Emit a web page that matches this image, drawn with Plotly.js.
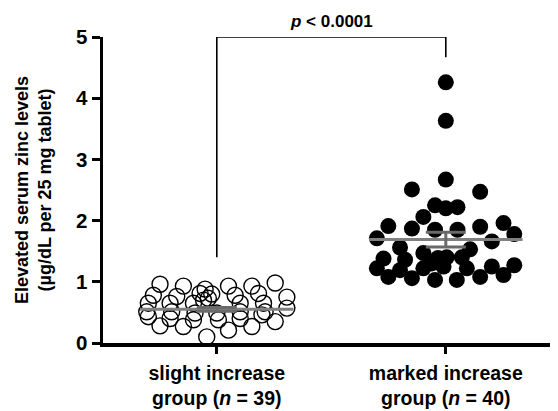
<!DOCTYPE html>
<html>
<head>
<meta charset="utf-8">
<script src="https://cdn.plot.ly/plotly-3.0.1.min.js"></script>
<style>html,body{margin:0;padding:0;background:#fff;}#chart{width:558px;height:411px;}</style>
</head>
<body>
<div id="chart"></div>
<script>
// ---- data ----
var categories = ["slight increase<br>group (<i>n</i> = 39)", "marked increase<br>group (<i>n</i> = 40)"];
var slightValues = [0.96,0.93,0.88,0.93,0.93,0.98,0.78,0.76,0.81,0.80,0.78,0.81,0.75,0.65,0.65,0.65,0.73,0.65,0.65,0.51,0.51,0.49,0.49,0.51,0.51,0.57,0.43,0.40,0.38,0.38,0.40,0.46,0.28,0.27,0.21,0.27,0.35,0.10,0.70];
var slightJitter = [-0.248,-0.146,-0.051,0.051,0.153,0.255,-0.277,-0.175,-0.073,-0.022,0.080,0.182,0.306,-0.299,-0.204,-0.102,-0.037,0.102,0.204,-0.306,-0.197,-0.095,0.0,0.102,0.211,0.306,-0.299,-0.204,-0.102,0.007,0.102,0.197,-0.248,-0.146,0.051,0.153,0.255,-0.044,-0.058];
var markedValues = [4.26,3.63,2.67,2.51,2.47,2.25,2.20,2.22,2.06,1.91,1.87,1.85,1.85,1.90,1.96,1.71,1.78,1.66,1.56,1.53,1.47,1.40,1.40,1.38,1.36,1.39,1.22,1.25,1.27,1.19,1.22,1.25,1.22,1.08,1.06,1.03,1.03,1.08,1.11,1.30];
var markedJitter = [0,0,0,-0.148,0.150,-0.047,0,0.051,-0.098,-0.251,-0.148,-0.047,0.051,0.150,0.252,-0.301,0.299,0.201,-0.200,0.106,-0.098,0.004,0.070,-0.272,-0.178,-0.034,-0.301,0.201,0.299,-0.200,-0.098,-0.010,0.092,-0.251,-0.148,-0.047,0.048,0.150,0.252,-0.061];
var groupMeans = [0.55, 1.69];
var groupSEM = [0.03, 0.12];
var bracketY = [1.40, 5.0, 5.0, 4.67];
var pLabel = "<i>p</i> < 0.0001";
var yTickVals = [0,1,2,3,4,5];
var yTitle = "Elevated serum zinc levels<br>(µg/dL per 25 mg tablet)";

// ---- build ----
var pos = [1, 2];
var halfLine = 0.335;
function along(c, offs){ return offs.map(function(o){ return c + o; }); }

var traces = [];
// bracket
traces.push({
  x: [pos[0], pos[0], pos[1], pos[1]], y: bracketY,
  mode: 'lines', line: {color: '#000', width: 1.6}, cliponaxis: false,
  hoverinfo: 'skip', showlegend: false
});
// points
traces.push({
  x: along(pos[0], slightJitter), y: slightValues, mode: 'markers',
  marker: {symbol: 'circle-open', size: 16, color: '#000', line: {width: 1.4, color: '#000'}},
  cliponaxis: false, showlegend: false
});
traces.push({
  x: along(pos[1], markedJitter), y: markedValues, mode: 'markers',
  marker: {symbol: 'circle', size: 16, color: '#000', line: {width: 0}},
  cliponaxis: false, showlegend: false
});
// mean lines
for (var i = 0; i < 2; i++) {
  traces.push({
    x: [pos[i] - halfLine, pos[i] + halfLine], y: [groupMeans[i], groupMeans[i]],
    mode: 'lines', line: {color: '#808080', width: 3}, showlegend: false, hoverinfo: 'skip'
  });
}
// SEM error bars
traces.push({
  x: pos, y: groupMeans, mode: 'markers',
  marker: {size: 1, opacity: 0},
  error_y: {type: 'data', array: groupSEM, visible: true, width: 20, thickness: 3, color: '#6a6a6a'},
  showlegend: false, hoverinfo: 'skip'
});

var font = "Liberation Sans, Arial, sans-serif";
var layout = {
  width: 558, height: 411,
  margin: {l: 103, r: 8, t: 37, b: 68},
  paper_bgcolor: '#fff', plot_bgcolor: '#fff',
  showlegend: false,
  font: {family: font, color: '#000'},
  xaxis: {
    range: [0.503, 2.455], tickvals: pos, ticktext: categories.map(function(c){ return '<b>' + c.replace('<br>', '</b><br><b>') + '</b>'; }),
    showline: true, linewidth: 3.5, linecolor: '#000', ticks: 'outside', ticklen: 7, tickwidth: 3, tickcolor: '#000',
    showgrid: false, zeroline: false, tickfont: {family: font, size: 19.5, color: '#000'}, ticklabelstandoff: 3
  },
  yaxis: {
    range: [0, 5], tickvals: yTickVals, ticktext: yTickVals.map(function(v){ return '<b>' + v + '</b>'; }),
    showline: true, linewidth: 3.5, linecolor: '#000', ticks: 'outside', ticklen: 8, tickwidth: 3, tickcolor: '#000',
    showgrid: false, zeroline: false, tickfont: {family: font, size: 20.5, color: '#000'}
  },
  annotations: [
    {text: '<b>' + pLabel + '</b>', xref: 'x', yref: 'paper', x: 1.5, y: 1, yshift: 16, showarrow: false,
     font: {family: font, size: 17, color: '#000'}, yanchor: 'middle'},
    {text: '<b>' + yTitle.replace('<br>', '</b><br><b>') + '</b>', xref: 'paper', yref: 'paper', x: 0, xshift: -70, y: 0.5,
     textangle: -90, showarrow: false, font: {family: font, size: 18, color: '#000'}, xanchor: 'center', yanchor: 'middle'}
  ]
};
Plotly.newPlot('chart', traces, layout, {displayModeBar: false, staticPlot: true});
</script>
</body>
</html>
